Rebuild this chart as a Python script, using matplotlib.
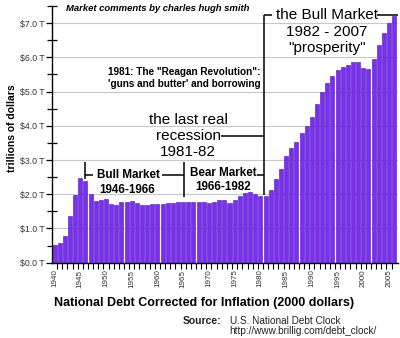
"""
National debt corrected for inflation (2000 dollars), 1940-2006,
with the market-era annotations of the original chart.
"""

import matplotlib
matplotlib.use("Agg")
import matplotlib.pyplot as plt
from matplotlib.ticker import FixedLocator, FuncFormatter

plt.rcParams["font.family"] = ["Liberation Sans", "DejaVu Sans"]

# ---------------------------------------------------------------------------
# Data (trillions of 2000 dollars)
# ---------------------------------------------------------------------------

years = list(range(1940, 2007))

debt = [
    0.52, 0.58, 0.78, 1.36, 1.99, 2.48, 2.38, 2.00, 1.80, 1.83,   # 1940-49
    1.85, 1.71, 1.68, 1.78, 1.78, 1.80, 1.75, 1.69, 1.69, 1.72,   # 1950-59
    1.71, 1.71, 1.73, 1.75, 1.77, 1.78, 1.77, 1.76, 1.77, 1.77,   # 1960-69
    1.74, 1.78, 1.84, 1.83, 1.73, 1.83, 1.96, 2.04, 2.07, 2.01,   # 1970-79
    1.96, 1.95, 2.13, 2.44, 2.75, 3.13, 3.35, 3.54, 3.80, 4.00,   # 1980-89
    4.25, 4.63, 4.99, 5.25, 5.45, 5.63, 5.72, 5.79, 5.86, 5.86,   # 1990-99
    5.68, 5.66, 5.96, 6.37, 6.72, 7.00, 7.22,                     # 2000-06
]

label_years = list(range(1940, 2006, 5))
y_major = [0, 1, 2, 3, 4, 5, 6, 7]
y_minor = [0.5, 1.5, 2.5, 3.5, 4.5, 5.5, 6.5, 7.5]

BAR_COLOR = "#7a2ff0"
BAR_EDGE = "#4a12b4"


# ---------------------------------------------------------------------------
# Annotations
# ---------------------------------------------------------------------------


def _annotate(ax):
    line_kw = dict(color="black", lw=1.1, solid_capstyle="butt", zorder=4)

    # the Bull Market 1982 - 2007
    ax.text(1992.95, 7.24, "the Bull Market", ha="center", va="center",
            fontsize=11, zorder=5)
    ax.text(1992.95, 6.75, "1982 - 2007", ha="center", va="center",
            fontsize=11, zorder=5)
    ax.text(1992.95, 6.26, '"prosperity"', ha="center", va="center",
            fontsize=11, zorder=5)
    ax.plot([1980.62, 1982.3], [7.24, 7.24], **line_kw)
    ax.plot([2002.7, 2006.75], [7.24, 7.24], **line_kw)
    ax.plot([1980.62, 1980.62], [7.24, 1.99], **line_kw)

    # Reagan
    ax.text(1965.2, 5.57, '1981: The "Reagan Revolution":', ha="center",
            va="center", fontsize=7.2, fontweight="bold")
    ax.text(1965.2, 5.22, "'guns and butter' and borrowing", ha="center",
            va="center", fontsize=7.2, fontweight="bold")

    # the last real recession
    ax.text(1966.0, 4.17, "the last real", ha="center", va="center", fontsize=11)
    ax.text(1966.0, 3.70, "recession", ha="center", va="center", fontsize=11)
    ax.text(1966.0, 3.24, "1981-82", ha="center", va="center", fontsize=11)
    ax.plot([1972.4, 1980.62], [3.70, 3.70], **line_kw)

    # Bull Market 1946-1966
    ax.text(1954.4, 2.57, "Bull Market", ha="center", va="center",
            fontsize=8.4, fontweight="bold")
    ax.text(1954.1, 2.13, "1946-1966", ha="center", va="center",
            fontsize=8.4, fontweight="bold")
    ax.plot([1946.0, 1946.0], [2.94, 2.45], **line_kw)
    ax.plot([1946.0, 1947.5], [2.56, 2.56], **line_kw)
    ax.plot([1960.8, 1965.2], [2.56, 2.56], **line_kw)
    ax.plot([1965.2, 1965.2], [2.94, 1.92], **line_kw)

    # Bear Market 1966-1982
    ax.text(1972.8, 2.62, "Bear Market", ha="center", va="center",
            fontsize=8.4, fontweight="bold")
    ax.text(1972.7, 2.21, "1966-1982", ha="center", va="center",
            fontsize=8.4, fontweight="bold")
    ax.plot([1979.4, 1980.62], [2.56, 2.56], **line_kw)


# ---------------------------------------------------------------------------
# Plot
# ---------------------------------------------------------------------------


def main():
    fig = plt.figure(figsize=(4.0, 3.38), dpi=100)
    ax = fig.add_axes([0.13, 0.223, 0.865, 0.759])

    ax.bar(years, debt, width=0.78, color=BAR_COLOR, edgecolor=BAR_EDGE,
           linewidth=0.4, zorder=2)

    ax.set_xlim(1939.5, 2006.75)
    ax.set_ylim(0, 7.5)

    # y axis
    ax.yaxis.set_major_locator(FixedLocator(y_major))
    ax.yaxis.set_minor_locator(FixedLocator(y_minor))
    ax.yaxis.set_major_formatter(FuncFormatter(lambda v, p: f"${v:.1f} T"))
    ax.tick_params(axis="y", which="major", direction="out", length=4,
                   width=0.9, labelsize=6.3, labelcolor="#333333", pad=1.5)
    ax.tick_params(axis="y", which="minor", direction="inout", length=7,
                   width=0.9)
    ax.grid(axis="y", which="major", color="#c8c8c8", lw=0.8, zorder=0)

    # x axis
    ax.xaxis.set_major_locator(FixedLocator(label_years))
    ax.xaxis.set_minor_locator(FixedLocator([y + 0.5 for y in years[:-1]]))
    ax.xaxis.set_major_formatter(FuncFormatter(lambda v, p: f"{int(v)}"))
    ax.tick_params(axis="x", which="major", length=0, labelsize=5.8,
                   labelrotation=90, labelcolor="#333333", pad=5)
    ax.tick_params(axis="x", which="minor", direction="out", length=4,
                   width=0.8)

    for side in ("top", "right"):
        ax.spines[side].set_visible(False)
    ax.spines["left"].set_linewidth(1.0)
    ax.spines["bottom"].set_linewidth(1.0)

    _annotate(ax)

    # texts outside the axes
    fig.text(0.395, 0.976, "Market comments by charles hugh smith",
             ha="center", va="center", fontsize=6.8, fontweight="bold",
             fontstyle="italic")
    fig.text(0.03, 0.621, "trillions of dollars", rotation=90, ha="center",
             va="center", fontsize=7.5, fontweight="bold")
    fig.text(0.51, 0.1036, "National Debt Corrected for Inflation (2000 dollars)",
             ha="center", va="center", fontsize=9, fontweight="bold")
    fig.text(0.457, 0.049, "Source:", ha="left", va="center", fontsize=7.5,
             fontweight="bold", color="#222222")
    fig.text(0.575, 0.049, "U.S. National Debt Clock", ha="left",
             va="center", fontsize=7.2, color="#222222")
    fig.text(0.572, 0.021, "http://www.brillig.com/debt_clock/", ha="left",
             va="center", fontsize=7.2, color="#222222")

    fig.savefig("out.png", dpi=100)


if __name__ == "__main__":
    main()
